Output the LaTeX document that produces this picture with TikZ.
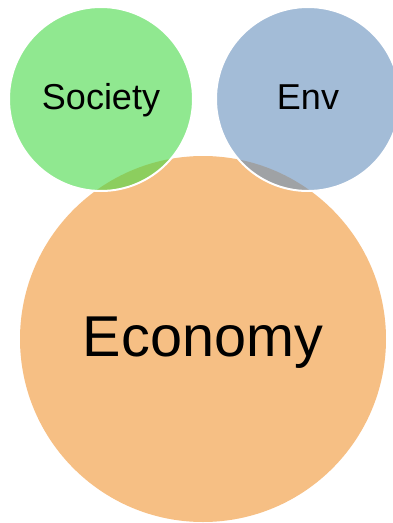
\documentclass[tikz,border=0pt]{standalone}
\usepackage{fontspec}
\setmainfont{Liberation Sans}
\usepackage{tikz}
\usetikzlibrary{positioning}
\definecolor{econorange}{RGB}{246,191,132}
\definecolor{socgreen}{RGB}{70,217,70}
\definecolor{envblue}{RGB}{102,143,188}
\tikzstyle{base} = [circle, fill=econorange, text=black, text centered,
minimum size=366pt, inner sep=0pt, text height=46pt, text depth=12pt, font=\fontsize{57.6}{62}\selectfont]
\tikzstyle{pillar} = [circle, draw=white, line width=2pt, fill opacity=0.6, text opacity=1, text=black,
text centered, minimum size=184pt, inner sep=0pt, text height=28pt, text depth=7pt, font=\fontsize{36}{40}\selectfont]

\begin{document}
\begin{tikzpicture}[x=1pt, y=-1pt]
\useasboundingbox (0,0) rectangle (393,523);

% economy circle at the bottom =============================
\node[base] (eco) at (203,339) {Economy};

% society and environment on top
\node[pillar, fill=socgreen] (soc) at (101,99) {Society};
\node[pillar, fill=envblue, right=21pt of soc] (env) {Env};

\end{tikzpicture}
\end{document}
